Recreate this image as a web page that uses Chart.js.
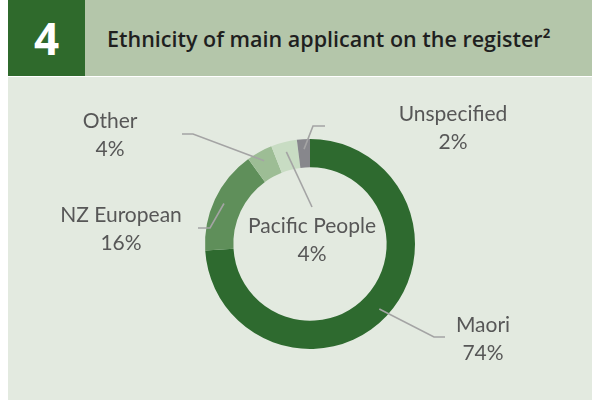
<!DOCTYPE html>
<html>
<head>
<meta charset="utf-8">
<script src="https://cdn.jsdelivr.net/npm/chart.js@4"></script>
<style>
  html, body { margin: 0; padding: 0; background: #ffffff; }
  body { width: 592px; height: 400px; position: relative; overflow: hidden; }
  #numbox { position: absolute; left: 8px; top: 0; width: 77px; height: 76px; background: #2f6a2c;
            color: #ffffff; font: 700 44px "Open Sans", sans-serif; display: flex; align-items: center; justify-content: center; }
  #titlebar { position: absolute; left: 85px; top: 0; width: 507px; height: 76px; background: #b4c6aa;
              color: #1f1f1f; font: 600 21.5px "Open Sans", sans-serif; display: flex; align-items: center; padding-left: 22px; box-sizing: border-box; white-space: nowrap; }
  #panel { position: absolute; left: 8px; top: 77px; width: 584px; height: 323px; background: #e3eae0; }
  #chart { position: absolute; left: 8px; top: 77px; }
</style>
</head>
<body>
<div id="numbox">4</div>
<div id="titlebar">Ethnicity of main applicant on the register²</div>
<div id="panel"></div>
<canvas id="chart" width="584" height="323"></canvas>
<script>
// ---- data ----
const categories = ['Maori', 'NZ European', 'Other', 'Pacific People', 'Unspecified'];
const shares = [74, 16, 4, 4, 2];
const sliceColours = ['#2e6a2f', '#5f8f5a', '#9dbd95', '#c8dcc3', '#87878c'];

// label layout, offsets (px) from the doughnut centre
const labelPos = [
  { dx: 173, dy: 88 },    // Maori
  { dx: -189, dy: -22 },  // NZ European
  { dx: -200, dy: -116 }, // Other
  { dx: 2, dy: -11 },     // Pacific People
  { dx: 143, dy: -123 }   // Unspecified
];
// leader line points after the slice anchor (px offsets from centre)
const leaderPts = [
  [[124, 93], [135, 93]],
  [[-100, -16], [-112, -16]],
  [[-117, -110], [-128, -110]],
  [[2, -37]],
  [[3, -118], [15, -118]]
];

const labelPlugin = {
  id: 'sliceLabels',
  afterDatasetsDraw(chart) {
    const ctx = chart.ctx;
    const meta = chart.getDatasetMeta(0);
    ctx.save();
    meta.data.forEach((arc, i) => {
      const p = arc.getProps(['x', 'y', 'startAngle', 'endAngle', 'innerRadius', 'outerRadius'], true);
      const mid = (p.startAngle + p.endAngle) / 2;
      const r = p.outerRadius - 0.35 * (p.outerRadius - p.innerRadius);
      const ax = p.x + Math.cos(mid) * r;
      const ay = p.y + Math.sin(mid) * r;
      ctx.strokeStyle = '#a4a4a4';
      ctx.lineWidth = 1.6;
      ctx.beginPath();
      ctx.moveTo(ax, ay);
      leaderPts[i].forEach(pt => ctx.lineTo(p.x + pt[0], p.y + pt[1]));
      ctx.stroke();
    });
    meta.data.forEach((arc, i) => {
      const p = arc.getProps(['x', 'y'], true);
      const lx = p.x + labelPos[i].dx;
      const ly = p.y + labelPos[i].dy;
      ctx.fillStyle = '#575757';
      ctx.font = '21px Lato, sans-serif';
      ctx.textAlign = 'center';
      ctx.textBaseline = 'alphabetic';
      ctx.fillText(categories[i], lx, ly);
      ctx.fillText(shares[i] + '%', lx, ly + 28);
    });
    ctx.restore();
  }
};

new Chart(document.getElementById('chart'), {
  type: 'doughnut',
  data: {
    labels: categories,
    datasets: [{
      data: shares,
      backgroundColor: sliceColours,
      borderWidth: 0,
      hoverOffset: 0,
      offset: 0
    }]
  },
  options: {
    responsive: false,
    maintainAspectRatio: false,
    animation: false,
    cutout: '73%',
    layout: { padding: { left: 20, right: 0, top: 62, bottom: 51 } },
    plugins: {
      legend: { display: false },
      tooltip: { enabled: false },
      title: { display: false }
    }
  },
  plugins: [labelPlugin]
});
</script>
</body>
</html>
